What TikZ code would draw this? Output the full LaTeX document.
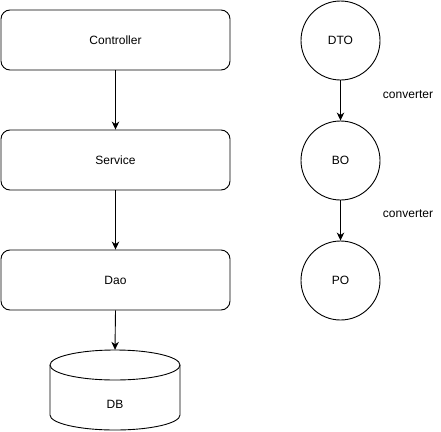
\documentclass[tikz,border=0pt]{standalone}
\usepackage{fontspec}
\setmainfont{Liberation Sans}
\usetikzlibrary{arrows.meta}
\begin{document}
\begin{tikzpicture}[x=1pt,y=-1pt,
  every node/.style={font=\fontsize{12}{14}\selectfont},
  layer/.style={draw, line width=0.9pt, rounded corners=9pt, minimum width=229pt, minimum height=60pt, inner sep=0pt},
  obj/.style={draw, circle, line width=0.9pt, minimum size=79pt, inner sep=0pt},
  arr/.style={line width=0.9pt, -{Stealth[length=8pt,width=7.5pt,inset=2.5pt]}},
  plain/.style={inner sep=0pt}]
\useasboundingbox (0,0) rectangle (441,431);
\node[layer] (ctrl) at (115.5,40) {Controller};
\node[layer] (svc) at (115.5,160) {Service};
\node[layer] (dao) at (115.5,280) {Dao};
% cylinder
\draw[line width=0.9pt] (50,365) arc[start angle=180, end angle=-180, x radius=65, y radius=15];
\draw[line width=0.9pt] (50,365) -- (50,415) arc[start angle=180, end angle=360, x radius=65, y radius=-15] -- (180,365);
\node[plain, minimum width=130pt, minimum height=80pt] (db) at (115,390) {};
\node[plain] (dbl) at (115,404) {DB};
\node[obj] (dto) at (340.5,40.5) {DTO};
\node[obj] (bo) at (340.5,160.5) {BO};
\node[obj] (po) at (340.5,280.5) {PO};
\node[plain] (c1) at (408,95) {converter};
\node[plain] (c2) at (408,214) {converter};
\draw[arr] (ctrl) -- (svc);
\draw[arr] (svc) -- (dao);
\draw[arr] (dao.south) -- (db.north);
\draw[arr] (dto) -- (bo);
\draw[arr] (bo) -- (po);
\end{tikzpicture}
\end{document}
